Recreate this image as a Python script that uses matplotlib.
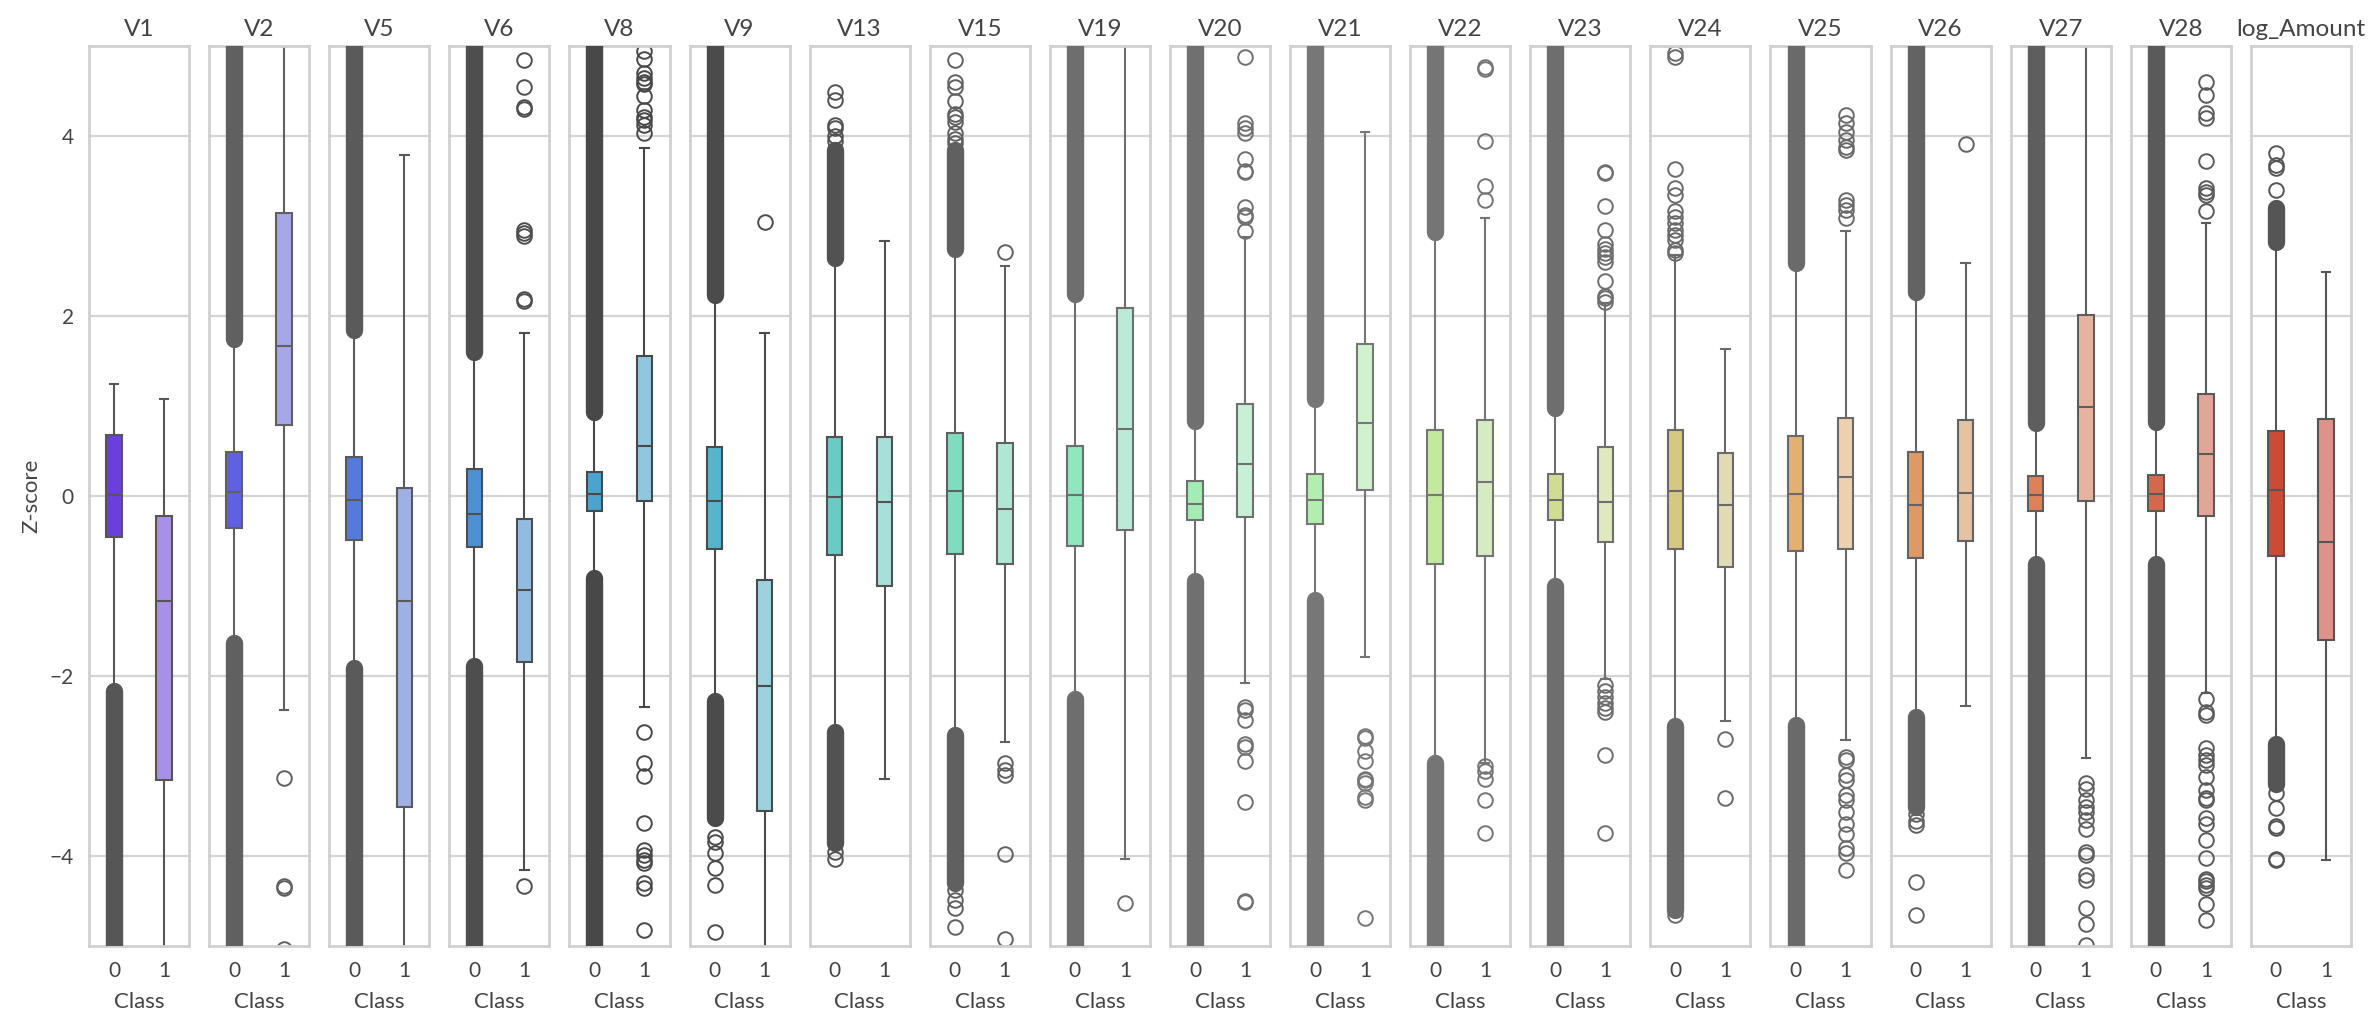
import matplotlib
matplotlib.use('Agg')
import matplotlib.pyplot as plt

plt.rcParams['font.family'] = ['Lato', 'DejaVu Sans']

features = ['V1', 'V2', 'V5', 'V6', 'V8', 'V9', 'V13', 'V15', 'V19', 'V20', 'V21', 'V22',
            'V23', 'V24', 'V25', 'V26', 'V27', 'V28', 'log_Amount']

# class 0 boxes
q1_0 = [-0.46, -0.36, -0.49, -0.57, -0.17, -0.59, -0.66, -0.64, -0.56, -0.27, -0.31, -0.76,
        -0.27, -0.59, -0.61, -0.69, -0.17, -0.17, -0.67]
med_0 = [0.01, 0.04, -0.04, -0.20, 0.02, -0.05, -0.01, 0.06, 0.01, -0.09, -0.04, 0.01,
         -0.04, 0.06, 0.02, -0.10, 0.01, 0.02, 0.07]
q3_0 = [0.68, 0.49, 0.43, 0.30, 0.27, 0.55, 0.66, 0.70, 0.56, 0.17, 0.25, 0.73,
        0.24, 0.73, 0.67, 0.49, 0.22, 0.23, 0.72]
whis_hi_0 = [1.24, 1.75, 1.84, 1.60, 0.93, 2.23, 2.64, 2.74, 2.24, 0.83, 1.08, 2.93,
             0.98, 2.68, 2.59, 2.27, 0.81, 0.82, 2.82]
whis_lo_0 = [-2.17, -1.63, -1.91, -1.89, -0.91, -2.28, -2.62, -2.66, -2.25, -0.94, -1.15, -2.97,
             -1.00, -2.56, -2.54, -2.45, -0.76, -0.76, -2.76]

# class 1 boxes
q1_1 = [-3.15, 0.79, -3.46, -1.84, -0.06, -3.50, -1.00, -0.75, -0.38, -0.23, 0.07, -0.67,
        -0.51, -0.79, -0.59, -0.50, -0.05, -0.22, -1.60]
med_1 = [-1.17, 1.67, -1.17, -1.04, 0.56, -2.11, -0.07, -0.14, 0.74, 0.36, 0.81, 0.16,
         -0.07, -0.10, 0.21, 0.03, 0.99, 0.47, -0.51]
q3_1 = [-0.22, 3.15, 0.09, -0.26, 1.56, -0.93, 0.66, 0.59, 2.09, 1.02, 1.69, 0.85,
        0.55, 0.48, 0.87, 0.84, 2.01, 1.13, 0.86]
whis_hi_1 = [1.08, 5.5, 3.79, 1.81, 3.87, 1.81, 2.83, 2.56, 5.5, 2.88, 4.04, 3.09,
             2.15, 1.63, 2.95, 2.59, 5.5, 3.03, 2.49]
whis_lo_1 = [-5.5, -2.38, -5.5, -4.16, -2.34, -5.5, -3.14, -2.73, -4.03, -2.08, -1.79, -2.97,
             -2.03, -2.50, -2.71, -2.33, -2.91, -2.19, -4.04]

# class 0 has so many outliers that they merge in a solid column, drawn as from/to ranges
dense_hi_to = [None, 5.5, 5.5, 5.5, 5.5, 5.5, 3.85, 3.85, 5.5, 5.5, 5.5, 5.5,
               5.5, None, 5.5, 5.5, 5.5, 5.5, 3.2]
dense_lo_to = [-5.5, -5.5, -5.5, -5.5, -5.5, -3.58, -3.85, -4.3, -5.5, -5.5, -5.5, -5.5,
               -5.5, -4.6, -5.5, -3.45, -5.5, -5.5, -3.2]

# outliers that can still be read one by one
fliers_0 = {
    'V9': [-3.79, -3.84, -3.97, -4.13, -4.32, -4.84],
    'V13': [4.49, 4.40, 4.12, 4.09, 4.00, 3.94, -3.95, -4.03],
    'V15': [4.84, 4.60, 4.55, 4.39, 4.25, 4.21, 4.16, 4.03, 3.97, 3.92, -4.38, -4.49, -4.58, -4.79],
    'V24': [4.92, 4.88, 3.63, 3.42, 3.35, 3.17, 3.10, 3.03, 2.96, 2.90, 2.84, 2.73, 2.70, -4.66],
    'V26': [-3.53, -3.61, -3.65, -4.29, -4.65],
    'log_Amount': [3.81, 3.68, 3.64, 3.40, -3.30, -3.47, -3.67, -3.69, -4.04, -4.03],
}
fliers_1 = {
    'V2': [-3.13, -4.33, -4.36, -5.03],
    'V6': [4.84, 4.54, 4.32, 4.30, 2.96, 2.92, 2.89, 2.19, 2.17, -4.33],
    'V8': [4.95, 4.86, 4.70, 4.64, 4.60, 4.58, 4.44, 4.29, 4.21, 4.18, 4.12, 4.03,
           -2.62, -2.97, -3.11, -3.63, -3.93, -3.99, -4.04, -4.08, -4.30, -4.35, -4.82],
    'V9': [3.05],
    'V15': [2.71, -2.97, -3.04, -3.10, -3.98, -4.92],
    'V19': [-4.52],
    'V20': [4.88, 4.14, 4.09, 4.03, 3.74, 3.61, 3.60, 3.21, 3.12, 3.10, 2.95,
            -2.34, -2.38, -2.49, -2.75, -2.79, -2.94, -3.40, -4.50, -4.51],
    'V21': [-2.67, -2.69, -2.83, -2.94, -3.14, -3.16, -3.19, -3.34, -3.38, -4.69],
    'V22': [4.77, 4.75, 3.94, 3.45, 3.29, -3.00, -3.06, -3.14, -3.38, -3.74],
    'V23': [3.60, 3.59, 3.22, 2.96, 2.80, 2.75, 2.70, 2.66, 2.60, 2.39, 2.22, 2.20, 2.16,
            -2.10, -2.17, -2.23, -2.30, -2.36, -2.40, -2.88, -3.74],
    'V24': [-2.70, -3.35],
    'V25': [4.23, 4.14, 4.05, 3.96, 3.88, 3.84, 3.29, 3.23, 3.18, 3.09,
            -2.90, -2.93, -3.10, -3.16, -3.32, -3.38, -3.51, -3.64, -3.75, -3.91, -3.97, -4.16],
    'V26': [3.91],
    'V27': [-3.19, -3.25, -3.38, -3.45, -3.51, -3.60, -3.70, -3.95, -3.99, -4.21, -4.27,
            -4.58, -4.75, -4.99],
    'V28': [4.60, 4.46, 4.26, 4.20, 3.72, 3.42, 3.38, 3.34, 3.17,
            -2.26, -2.40, -2.43, -2.80, -2.88, -2.93, -2.99, -3.12, -3.27, -3.36, -3.38,
            -3.58, -3.64, -3.82, -4.02, -4.25, -4.28, -4.32, -4.36, -4.53, -4.71],
}

colors_0 = ['#6a3fdc', '#5f60e2', '#547bdc', '#4f8fd4', '#4ca3d0', '#57b4ca', '#6ccac4', '#7fdcbe',
            '#90e6bf', '#a2edb5', '#b2efae', '#c3e8a0', '#cfdc91', '#d6c783', '#e3b072', '#de9966',
            '#dd8257', '#d7674a', '#cc4a36']
colors_1 = ['#a890e3', '#a6a6e8', '#9fb0e4', '#93bbe0', '#90c6de', '#9bd2dd', '#a7dfd9', '#b0e6d5',
            '#bbebd7', '#c8f0d6', '#d1f2cf', '#d5ebc4', '#dfe8bf', '#e2dab5', '#ebd1af', '#e6c1a2',
            '#e6b49e', '#e2a698', '#df9289']
line_colors = ['#565656', '#606060', '#5a5a5a', '#4e4e4e', '#484848', '#4b4b4b', '#525252', '#606060',
               '#6e6e6e', '#707070', '#777777', '#757575', '#6e6e6e', '#6a6a6a', '#6a6a6a', '#636363',
               '#5e5e5e', '#5a5a5a', '#555555']

TEXT = '#444444'
LW = 1.5

fig, axes = plt.subplots(1, len(features), sharey=True, figsize=(23.78, 10.24), dpi=100)
fig.subplots_adjust(left=89 / 2378, right=2351 / 2378, top=1 - 46 / 1024, bottom=1 - 946 / 1024, wspace=0.2)

for i, (ax, name) in enumerate(zip(axes, features)):
    lc = line_colors[i]
    stats = [
        dict(med=med_0[i], q1=q1_0[i], q3=q3_0[i], whislo=whis_lo_0[i], whishi=whis_hi_0[i],
             fliers=fliers_0.get(name, [])),
        dict(med=med_1[i], q1=q1_1[i], q3=q3_1[i], whislo=whis_lo_1[i], whishi=whis_hi_1[i],
             fliers=fliers_1.get(name, [])),
    ]
    bp = ax.bxp(stats, positions=[0, 1], widths=0.31, capwidths=0.17, patch_artist=True,
                boxprops=dict(edgecolor=lc, linewidth=LW),
                medianprops=dict(color=lc, linewidth=LW),
                whiskerprops=dict(color=lc, linewidth=LW),
                capprops=dict(color=lc, linewidth=LW),
                flierprops=dict(marker='o', markersize=10.5, markerfacecolor='none',
                                markeredgecolor=lc, markeredgewidth=1.4))
    bp['boxes'][0].set_facecolor(colors_0[i])
    bp['boxes'][1].set_facecolor(colors_1[i])

    # solid outlier columns of class 0
    if dense_hi_to[i] is not None:
        ax.plot([0, 0], [whis_hi_0[i], dense_hi_to[i]], color=lc, lw=12.5,
                solid_capstyle='round', zorder=3)
    ax.plot([0, 0], [whis_lo_0[i], dense_lo_to[i]], color=lc, lw=12.5,
            solid_capstyle='round', zorder=3)

    ax.set_xlim(-0.5, 1.5)
    ax.set_ylim(-5, 5)
    ax.set_xticks([0, 1])
    ax.set_xticklabels(['0', '1'])
    ax.set_yticks([-4, -2, 0, 2, 4])
    ax.grid(axis='y', color='#d4d4d4', linewidth=1.6)
    ax.grid(axis='x', visible=False)
    ax.set_axisbelow(True)
    ax.tick_params(length=0, labelsize=15, colors=TEXT, pad=11)
    for spine in ax.spines.values():
        spine.set_color('#d0d0d0')
        spine.set_linewidth(2.0)
    ax.set_title(name, fontsize=17.5, color=TEXT, pad=7)
    ax.set_xlabel('Class', fontsize=16, color=TEXT, labelpad=8)

axes[0].set_ylabel('Z-score', fontsize=16, color=TEXT, labelpad=6)

plt.savefig('out.png', dpi=100)
